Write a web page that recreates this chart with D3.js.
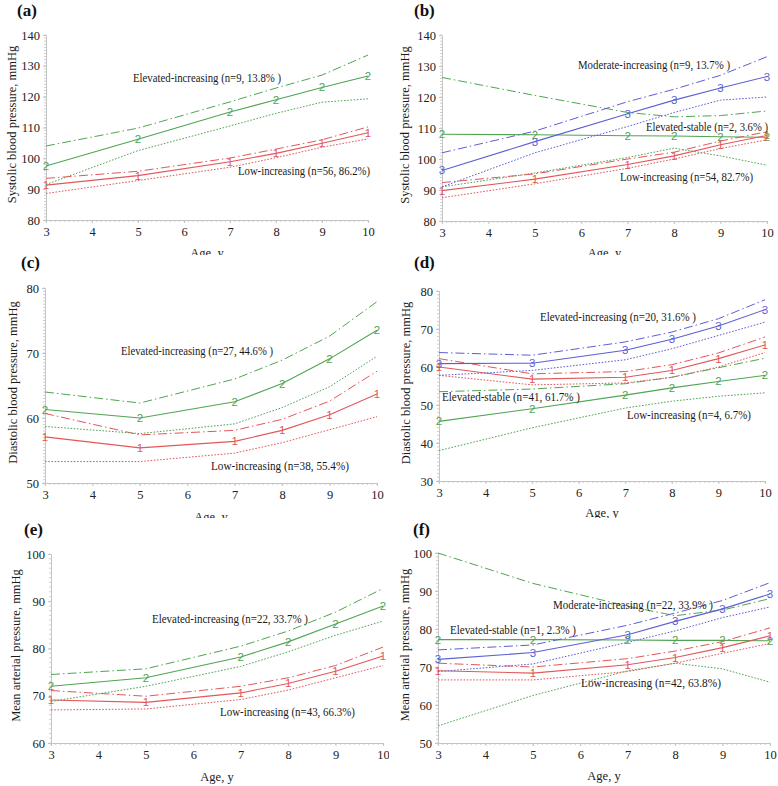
<!DOCTYPE html>
<html>
<head>
<meta charset="utf-8">
<script src="https://cdn.jsdelivr.net/npm/d3@7"></script>
<style>
  html, body { margin: 0; padding: 0; background: #fff; }
  svg { display: block; }
</style>
</head>
<body>
<script>
// ---------------- DATA ----------------
const ages = [3, 5, 7, 8, 9, 10];
const xTickValues = [3, 4, 5, 6, 7, 8, 9, 10];

// (a) Systolic, 2 groups
const aGreenMean  = [97.5, 106.2, 115.0, 119.0, 123.0, 126.7];
const aGreenUpper = [104.0, 109.8, 118.3, 122.8, 127.0, 133.5];
const aGreenLower = [91.5, 102.5, 110.5, 114.6, 118.2, 119.3];
const aRedMean    = [91.3, 94.4, 98.9, 101.6, 104.9, 108.3];
const aRedUpper   = [93.5, 95.8, 100.1, 103.0, 106.0, 110.2];
const aRedLower   = [88.6, 92.8, 97.1, 100.2, 103.6, 106.3];

// (b) Systolic, 3 groups
const bBlueMean   = [96.3, 105.6, 114.6, 119.0, 122.9, 126.6];
const bBlueUpper  = [102.0, 109.0, 118.5, 122.5, 127.0, 133.0];
const bBlueLower  = [91.0, 102.0, 110.5, 115.0, 119.0, 120.0];
const bGreenMean  = [108.0, 107.8, 107.5, 107.4, 107.2, 107.0];
const bGreenUpper = [126.3, 120.5, 115.0, 113.6, 114.0, 115.5];
const bGreenLower = [91.0, 95.5, 100.5, 103.5, 101.0, 98.0];
const bRedMean    = [89.8, 93.5, 98.2, 101.0, 104.6, 107.6];
const bRedUpper   = [92.4, 95.2, 100.0, 102.2, 105.8, 108.8];
const bRedLower   = [87.5, 92.0, 97.0, 100.0, 103.4, 106.2];

// (c) Diastolic, 2 groups
const cGreenMean  = [61.3, 60.0, 62.5, 65.3, 69.1, 73.5];
const cGreenUpper = [64.0, 62.3, 66.0, 68.9, 72.6, 77.9];
const cGreenLower = [58.7, 57.6, 59.1, 61.6, 64.8, 69.5];
const cRedMean    = [57.1, 55.4, 56.4, 58.1, 60.5, 63.7];
const cRedUpper   = [60.7, 57.4, 58.1, 59.8, 62.6, 67.2];
const cRedLower   = [53.3, 53.3, 54.6, 56.2, 58.2, 60.2];

// (d) Diastolic, 3 groups
const dBlueMean   = [60.9, 61.0, 64.4, 67.3, 70.8, 75.1];
const dBlueUpper  = [63.8, 63.1, 66.6, 69.2, 72.7, 77.7];
const dBlueLower  = [57.8, 59.1, 61.9, 64.8, 68.3, 71.8];
const dRedMean    = [60.0, 56.8, 57.3, 59.1, 62.2, 65.8];
const dRedUpper   = [62.2, 58.2, 58.8, 60.6, 63.7, 67.9];
const dRedLower   = [57.8, 55.3, 55.8, 57.3, 60.0, 63.8];
const dGreenMean  = [45.7, 49.0, 52.6, 54.5, 56.2, 57.8];
const dGreenUpper = [53.5, 54.2, 55.6, 57.3, 59.8, 62.3];
const dGreenLower = [38.0, 44.0, 49.2, 51.0, 52.3, 53.2];

// (e) Mean arterial, 2 groups
const eGreenMean  = [72.0, 73.8, 78.2, 81.4, 85.2, 89.0];
const eGreenUpper = [74.5, 75.7, 80.5, 83.7, 87.7, 92.7];
const eGreenLower = [68.8, 72.0, 76.2, 79.3, 82.8, 85.8];
const eRedMean    = [69.1, 68.6, 70.6, 72.6, 75.2, 78.4];
const eRedUpper   = [71.1, 69.9, 72.0, 73.8, 76.4, 80.3];
const eRedLower   = [67.0, 67.2, 69.2, 71.2, 73.8, 76.4];

// (f) Mean arterial, 3 groups
const fBlueMean   = [72.0, 73.8, 78.5, 82.0, 85.3, 89.2];
const fBlueUpper  = [74.5, 75.8, 81.0, 84.2, 87.5, 92.2];
const fBlueLower  = [68.8, 70.8, 76.5, 79.5, 83.0, 85.8];
const fGreenMean  = [77.2, 77.2, 77.1, 77.0, 77.0, 76.9];
const fGreenUpper = [100.0, 92.0, 86.0, 83.5, 85.0, 88.0];
const fGreenLower = [54.5, 62.5, 69.0, 71.0, 69.5, 66.0];
const fRedMean    = [69.0, 68.4, 70.6, 72.5, 75.1, 78.2];
const fRedUpper   = [71.0, 70.0, 72.2, 74.2, 76.7, 80.3];
const fRedLower   = [66.6, 66.6, 68.8, 71.0, 73.6, 76.2];

// tick labels
const sbpTicks = [80, 90, 100, 110, 120, 130, 140];
const dbpTicksC = [50, 60, 70, 80];
const dbpTicksD = [30, 40, 50, 60, 70, 80];
const mapTicksE = [60, 70, 80, 90, 100];
const mapTicksF = [50, 60, 70, 80, 90, 100];

// text
const panelLetters = ["(a)", "(b)", "(c)", "(d)", "(e)", "(f)"];
const yTitles = ["Systolic blood pressure, mmHg", "Systolic blood pressure, mmHg",
                 "Diastolic blood pressure, mmHg", "Diastolic blood pressure, mmHg",
                 "Mean arterial pressure, mmHg", "Mean arterial pressure, mmHg"];
const xTitle = "Age, y";
const aNotes = ["Elevated-increasing (n=9, 13.8% )", "Low-increasing (n=56, 86.2%)"];
const bNotes = ["Moderate-increasing (n=9, 13.7% )", "Elevated-stable (n=2, 3.6% )", "Low-increasing (n=54, 82.7%)"];
const cNotes = ["Elevated-increasing (n=27, 44.6% )", "Low-increasing (n=38, 55.4%)"];
const dNotes = ["Elevated-increasing (n=20, 31.6% )", "Elevated-stable (n=41, 61.7% )", "Low-increasing (n=4, 6.7%)"];
const eNotes = ["Elevated-increasing (n=22, 33.7% )", "Low-increasing (n=43, 66.3%)"];
const fNotes = ["Moderate-increasing (n=22, 33.9% )", "Elevated-stable (n=1, 2.3% )", "Low-increasing (n=42, 63.8%)"];

// ---------------- STYLE / LAYOUT ----------------
const COL = { red: "#e2575a", green: "#4fa552", blue: "#5c5fd3" };
const SERIF = "'Liberation Serif', 'Times New Roman', serif";
const SANS = "'Liberation Sans', Arial, sans-serif";

function grp(color, digit, mean, upper, lower) { return { color, digit, mean, upper, lower }; }

const panels = [
  { left: 46, right: 368, top: 35, bottom: 220, domain: [80, 140], ticks: sbpTicks, clip: [0, 255],
    letter: [17, 16], ytx: 12, xlabY: 257, minorY: 1,
    groups: [grp(COL.red, "1", aRedMean, aRedUpper, aRedLower), grp(COL.green, "2", aGreenMean, aGreenUpper, aGreenLower)],
    notes: aNotes, notePos: [[133, 78, 148], [238, 171, 132]] },
  { left: 442, right: 767, top: 35, bottom: 221, domain: [80, 140], ticks: sbpTicks, clip: [0, 255],
    letter: [414, 16], ytx: 405, xlabY: 257, minorY: 1,
    groups: [grp(COL.green, "2", bGreenMean, bGreenUpper, bGreenLower), grp(COL.red, "1", bRedMean, bRedUpper, bRedLower), grp(COL.blue, "3", bBlueMean, bBlueUpper, bBlueLower)],
    notes: bNotes, notePos: [[578, 65, 152], [646, 127, 122], [620, 177, 133]] },
  { left: 45, right: 377, top: 288, bottom: 483, domain: [50, 80], ticks: dbpTicksC, clip: [255, 518],
    letter: [21, 268], ytx: 12.5, xlabY: 521, minorY: 0.5,
    groups: [grp(COL.red, "1", cRedMean, cRedUpper, cRedLower), grp(COL.green, "2", cGreenMean, cGreenUpper, cGreenLower)],
    notes: cNotes, notePos: [[121, 351, 152], [211, 466, 138]] },
  { left: 439, right: 765, top: 291, bottom: 481, domain: [30, 80], ticks: dbpTicksD, clip: [255, 521],
    letter: [414, 268], ytx: 405.5, xlabY: 517, minorY: 1,
    groups: [grp(COL.green, "2", dGreenMean, dGreenUpper, dGreenLower), grp(COL.red, "1", dRedMean, dRedUpper, dRedLower), grp(COL.blue, "3", dBlueMean, dBlueUpper, dBlueLower)],
    notes: dNotes, notePos: [[540, 317, 156], [442, 397, 138], [627, 415, 124]] },
  { left: 51, right: 383, top: 554, bottom: 743, domain: [60, 100], ticks: mapTicksE, clip: [518, 786],
    letter: [24, 535], ytx: 16, xlabY: 781, minorY: 1,
    groups: [grp(COL.red, "1", eRedMean, eRedUpper, eRedLower), grp(COL.green, "2", eGreenMean, eGreenUpper, eGreenLower)],
    notes: eNotes, notePos: [[152, 619, 156], [220, 712, 135]] },
  { left: 438, right: 770, top: 553, bottom: 743, domain: [50, 100], ticks: mapTicksF, clip: [518, 786],
    letter: [413, 535], ytx: 405, xlabY: 780, minorY: 1,
    groups: [grp(COL.green, "2", fGreenMean, fGreenUpper, fGreenLower), grp(COL.red, "1", fRedMean, fRedUpper, fRedLower), grp(COL.blue, "3", fBlueMean, fBlueUpper, fBlueLower)],
    notes: fNotes, notePos: [[553, 605, 160], [450, 630, 126], [581, 683, 140]] }
];

// ---------------- DRAW ----------------
const W = 778, H = 786;
const svg = d3.select("body").append("svg").attr("width", W).attr("height", H);
svg.append("rect").attr("width", W).attr("height", H).attr("fill", "#fff");
const defs = svg.append("defs");

panels.forEach((p, i) => {
  const clipId = "clip" + i;
  const colLeft = i % 2 === 0 ? 0 : 389;
  defs.append("clipPath").attr("id", clipId).append("rect")
    .attr("x", colLeft).attr("y", p.clip[0]).attr("width", 389).attr("height", p.clip[1] - p.clip[0]);

  const g = svg.append("g").attr("clip-path", `url(#${clipId})`);
  g.append("rect").attr("x", colLeft).attr("y", p.clip[0]).attr("width", 389)
    .attr("height", p.clip[1] - p.clip[0]).attr("fill", "#fff");

  const x = d3.scaleLinear().domain([3, 10]).range([p.left, p.right]);
  const y = d3.scaleLinear().domain(p.domain).range([p.bottom, p.top]);

  // minor ticks
  const minorY = d3.range(p.domain[0], p.domain[1] + 0.001, p.minorY);
  g.append("g").selectAll("line").data(minorY).join("line")
    .attr("x1", p.left - 2).attr("x2", p.left).attr("y1", d => y(d)).attr("y2", d => y(d))
    .attr("stroke", "#c4c4c4").attr("stroke-width", 0.8);
  const minorX = d3.range(3, 10.001, 0.1);
  g.append("g").selectAll("line").data(minorX).join("line")
    .attr("x1", d => x(d)).attr("x2", d => x(d)).attr("y1", p.bottom).attr("y2", p.bottom + 2)
    .attr("stroke", "#c4c4c4").attr("stroke-width", 0.8);

  // axes
  const yAxis = g.append("g").attr("transform", `translate(${p.left},0)`)
    .call(d3.axisLeft(y).tickValues(p.ticks).tickSize(3).tickPadding(3).tickFormat(d3.format("d")));
  const xAxis = g.append("g").attr("transform", `translate(0,${p.bottom})`)
    .call(d3.axisBottom(x).tickValues(xTickValues).tickSize(3).tickPadding(4).tickFormat(d3.format("d")));
  [yAxis, xAxis].forEach(ax => {
    ax.select(".domain").attr("stroke", "#c4c4c4").attr("stroke-width", 1);
    ax.selectAll(".tick line").attr("stroke", "#c4c4c4");
    ax.selectAll(".tick text").attr("fill", "#222").style("font-family", SERIF).style("font-size", "12.5px");
  });

  // lines
  const line = d3.line().x((d, k) => x(ages[k])).y(d => y(d));
  p.groups.forEach(gr => {
    g.append("path").attr("d", line(gr.upper)).attr("fill", "none")
      .attr("stroke", gr.color).attr("stroke-width", 1).attr("stroke-dasharray", "9,3,1.5,3");
    g.append("path").attr("d", line(gr.lower)).attr("fill", "none")
      .attr("stroke", gr.color).attr("stroke-width", 1).attr("stroke-dasharray", "1.6,1.6");
    g.append("path").attr("d", line(gr.mean)).attr("fill", "none")
      .attr("stroke", gr.color).attr("stroke-width", 1.1);
    g.append("g").selectAll("text").data(gr.mean).join("text")
      .attr("x", (d, k) => x(ages[k])).attr("y", d => y(d))
      .attr("text-anchor", "middle").attr("dominant-baseline", "central")
      .attr("fill", gr.color).style("font-family", SANS).style("font-size", "11.5px")
      .text(gr.digit);
  });

  // annotations
  p.notes.forEach((t, k) => {
    const [nx, ny, nw] = p.notePos[k];
    g.append("text").attr("x", nx).attr("y", ny).attr("dominant-baseline", "central")
      .attr("textLength", nw).attr("lengthAdjust", "spacingAndGlyphs")
      .attr("fill", "#1a1a1a").style("font-family", SERIF).style("font-size", "12.5px")
      .text(t);
  });

  // titles
  const cy = (p.top + p.bottom) / 2 - 3;
  g.append("text").attr("transform", `translate(${p.ytx},${cy}) rotate(-90)`)
    .attr("text-anchor", "middle").attr("dominant-baseline", "central")
    .attr("fill", "#1a1a1a").style("font-family", SERIF).style("font-size", "12.5px")
    .text(yTitles[i]);
  g.append("text").attr("x", (p.left + p.right) / 2).attr("y", p.xlabY)
    .attr("text-anchor", "middle").attr("fill", "#1a1a1a")
    .style("font-family", SERIF).style("font-size", "12.5px").text(xTitle);
  g.append("text").attr("x", p.letter[0]).attr("y", p.letter[1])
    .attr("fill", "#111").style("font-family", SERIF).style("font-size", "17px").style("font-weight", "bold")
    .text(panelLetters[i]);
});
</script>
</body>
</html>
